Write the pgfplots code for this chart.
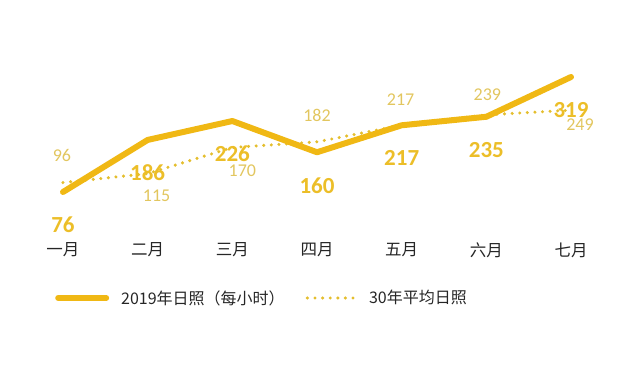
\documentclass[border=0pt]{standalone}
\usepackage{pgfplots}
\pgfplotsset{compat=1.18}
\usepackage{fontspec}
\setmainfont{Carlito}
\newfontfamily\cjk{Noto Sans CJK SC}
\definecolor{gold}{RGB}{240,184,20}
\definecolor{labbold}{RGB}{236,190,40}
\definecolor{lablight}{RGB}{226,198,95}
\definecolor{dotc}{RGB}{228,190,45}
\begin{document}
\begin{tikzpicture}[x=1pt,y=1pt]
\path[use as bounding box] (0,0) rectangle (640,377);
\begin{axis}[
  at={(0,0)}, anchor=south west,
  width=640pt, height=377pt, scale only axis,
  xmin=-0.744, xmax=6.815, ymin=-314.8, ymax=481.7,
  axis line style={draw=none}, tick style={draw=none},
  ytick=\empty,
  xtick={0,1,2,3,4,5,6},
  xticklabels={一月,二月,三月,四月,五月,六月,七月},
  xticklabel style={font=\cjk\fontsize{16.5}{16.5}\selectfont, text=black!85, anchor=center, yshift=127pt},
  clip=false,
  legend columns=2,
  reverse legend,
  legend style={at={(52/640,1-298/377)}, anchor=west, draw=none, fill=none,
    font=\cjk\fontsize{16}{16}\selectfont, text=black!85,
    /tikz/every even column/.append style={column sep=19pt},
    /tikz/every odd column/.append style={column sep=10pt}},
  legend image code/.code={\draw[#1] (0pt,0pt) -- (48pt,0pt);},
]
\addplot[color=dotc, line width=3.4pt, line cap=round, dash pattern=on 0pt off 7.6pt,
  nodes near coords, point meta=explicit symbolic,
  visualization depends on={\thisrow{dx} \as \ddx},
  visualization depends on={\thisrow{dy} \as \ddy},
  every node near coord/.append style={font=\fontsize{18}{18}\selectfont, text=lablight, anchor=center, xshift=\ddx pt, yshift=\ddy pt}]
  table[x=x, y=y, meta=lab] {
x y dx dy lab
0 96 -1 27 96
1 115 9 -22 115
2 170 10 -23 170
3 182 0 26 182
4 217 -1 26 217
5 239 1 20 239
6 249 9 -15 249
};
\addlegendentry{30年平均日照}
\addplot[color=gold, line width=6pt, line cap=round, line join=round,
  nodes near coords, point meta=explicit symbolic,
  every node near coord/.append style={font=\bfseries\fontsize{23}{23}\selectfont, text=labbold, anchor=center, yshift=-33pt}]
  table[x=x, y=y, meta=lab] {
x y lab
0 76 76
1 186 186
2 226 226
3 160 160
4 217 217
5 235 235
6 319 319
};
\addlegendentry{2019年日照（每小时）}
\end{axis}
\end{tikzpicture}
\end{document}
